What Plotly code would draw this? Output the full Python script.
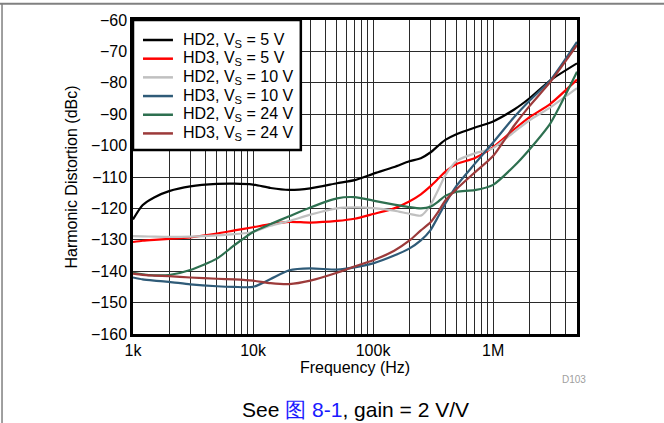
import plotly.graph_objects as go

# frequency points (Hz)
freq = [1e3, 1.2e3, 1.5e3, 2e3, 3e3, 5e3, 7e3, 10e3, 14e3, 20e3, 30e3, 50e3, 70e3,
        100e3, 150e3, 200e3, 250e3, 300e3, 350e3, 400e3, 500e3, 700e3,
        1e6, 1.5e6, 2e6, 3e6, 5e6]

# harmonic distortion (dBc) for each curve
hd2_5v = [-123.5, -119.0, -116.5, -114.5, -113.0, -112.2, -112.1, -112.4, -113.5, -114.1, -113.6, -112.0, -111.0,
          -109.0, -106.8, -105.0, -104.0, -102.2, -100.0, -98.2, -96.3, -94.3,
          -92.3, -88.5, -85.0, -79.2, -73.8]
hd3_5v = [-130.7, -130.3, -130.0, -129.7, -129.2, -128.0, -127.0, -126.0, -125.0, -124.3, -124.5, -124.0, -123.3,
          -121.8, -120.0, -117.8, -115.5, -113.0, -110.5, -108.3, -105.8, -104.0,
          -100.5, -94.8, -91.0, -86.7, -79.0]
hd2_10v = [-128.8, -128.9, -129.0, -129.1, -129.0, -128.6, -128.2, -127.5, -125.5, -124.0, -122.0, -120.0, -119.7,
           -119.9, -120.7, -121.7, -122.3, -119.0, -114.0, -109.5, -104.8, -102.5,
           -100.8, -95.6, -92.0, -87.8, -81.7]
hd3_10v = [-142.0, -142.6, -143.0, -143.4, -144.2, -144.8, -145.0, -145.0, -142.5, -139.7, -139.1, -139.5, -138.8,
           -137.5, -135.0, -132.8, -130.2, -127.0, -122.5, -118.5, -112.6, -105.9,
           -99.0, -90.9, -85.8, -79.2, -67.0]
hd2_24v = [-140.5, -141.0, -141.3, -141.2, -139.6, -136.0, -131.7, -127.5, -125.0, -122.5, -119.7, -116.8, -116.4,
           -117.5, -118.8, -119.6, -120.0, -119.5, -117.8, -116.0, -114.7, -114.2,
           -112.5, -106.5, -101.3, -92.9, -76.5]
hd3_24v = [-140.8, -141.2, -141.4, -141.6, -142.0, -142.4, -142.6, -143.0, -143.8, -144.1, -143.0, -140.5, -138.5,
           -136.5, -133.5, -130.3, -127.0, -124.5, -121.0, -117.5, -113.7, -108.6,
           -103.3, -93.6, -87.5, -79.7, -68.0]

series_names = ["HD2, V<sub>S</sub> = 5 V", "HD3, V<sub>S</sub> = 5 V",
                "HD2, V<sub>S</sub> = 10 V", "HD3, V<sub>S</sub> = 10 V",
                "HD2, V<sub>S</sub> = 24 V", "HD3, V<sub>S</sub> = 24 V"]
series_values = [hd2_5v, hd3_5v, hd2_10v, hd3_10v, hd2_24v, hd3_24v]
series_colors = ["#000000", "#ff0000", "#c0c0c0", "#2f5b78", "#2e7050", "#9c3a3a"]

# x ticks: grid line at every 1..9 multiple, labels only on decades
decade_labels = {1e3: "1k", 1e4: "10k", 1e5: "100k", 1e6: "1M"}
x_tickvals = [m * 10 ** e for e in range(3, 7) for m in range(1, 10) if m * 10 ** e <= 5e6]
x_ticktext = [decade_labels.get(v, "") for v in x_tickvals]
y_tickvals = list(range(-160, -50, 10))

fig = go.Figure()
for name, vals, col in zip(series_names, series_values, series_colors):
    fig.add_trace(go.Scatter(x=freq, y=vals, name=name, mode="lines", showlegend=False,
                             line=dict(color=col, width=2.2, shape="spline", smoothing=0.6)))

fig.update_xaxes(type="log", range=[3, 6.699], tickvals=x_tickvals, ticktext=x_ticktext,
                 showgrid=True, gridcolor="#2a2a2a", gridwidth=1,
                 showline=True, linecolor="black", linewidth=2.5, mirror=True,
                 ticks="", zeroline=False, tickfont=dict(size=16),
                 title=dict(text="Frequency (Hz)", font=dict(size=16), standoff=2))
fig.update_yaxes(range=[-160, -60], tickvals=y_tickvals,
                 showgrid=True, gridcolor="#2a2a2a", gridwidth=1,
                 showline=True, linecolor="black", linewidth=2.5, mirror=True,
                 ticks="", zeroline=False, tickfont=dict(size=16),
                 title=dict(text="Harmonic Distortion (dBc)", font=dict(size=16), standoff=10))

# legend box drawn by hand so the rows can sit as tight as in the original
# (paper coords: plot area spans 444 x 314 px)
fig.add_shape(type="rect", xref="paper", yref="paper", x0=0.0, x1=0.378, y0=0.586, y1=1.0,
              fillcolor="white", line=dict(color="black", width=2.5), layer="above")
for i, (name, col) in enumerate(zip(series_names, series_colors)):
    yrow = 0.9363 - i * 0.0595
    fig.add_shape(type="line", xref="paper", yref="paper", x0=0.0225, x1=0.09, y0=yrow, y1=yrow,
                  line=dict(color=col, width=2.5), layer="above")
    fig.add_annotation(text=name, xref="paper", yref="paper", x=0.109, y=yrow,
                       xanchor="left", yanchor="middle", showarrow=False,
                       font=dict(size=16, color="black"))

# page border lines and captions
fig.add_shape(type="line", xref="paper", yref="paper", x0=-0.3, x1=1.2, y0=1.052, y1=1.052,
              line=dict(color="#808080", width=2))
fig.add_shape(type="line", xref="paper", yref="paper", x0=-0.2950, x1=-0.2950, y0=1.052, y1=-0.3,
              line=dict(color="#808080", width=1.5))
fig.add_annotation(text="D103", xref="paper", yref="paper", x=1.025, y=-0.146, showarrow=False,
                   yanchor="middle", font=dict(size=10, color="#a0a0a0"))
fig.add_annotation(text="See <span style='color:#1a1aff'>图 8-1</span>, gain = 2 V/V",
                   xref="paper", yref="paper", x=0.502, y=-0.242, showarrow=False,
                   yanchor="middle", font=dict(size=21, color="black"))

fig.update_layout(
    width=664, height=423,
    margin=dict(l=133, r=87, t=20, b=89),
    paper_bgcolor="white", plot_bgcolor="white",
    font=dict(family="Liberation Sans, Arial, sans-serif", size=15, color="black"),
    showlegend=False,
)

# drop the default page margin so the figure sits at the window corner
fig.write_html("out.html", config={"displayModeBar": False},
               post_script="document.body.style.margin='0';")
